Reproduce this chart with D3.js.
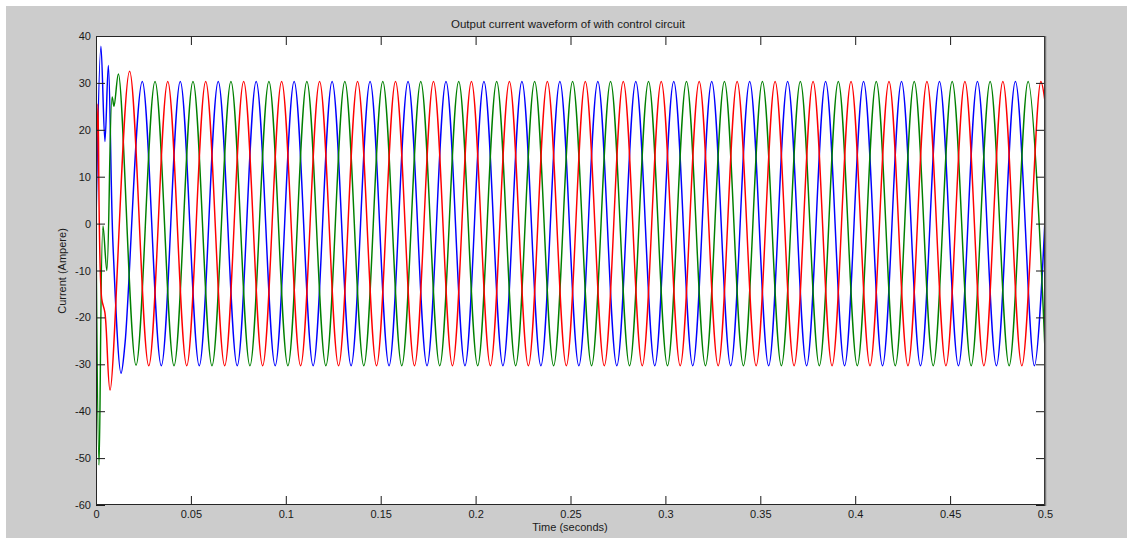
<!DOCTYPE html>
<html><head><meta charset="utf-8">
<script src="https://cdn.jsdelivr.net/npm/d3@7"></script>
<style>
html,body{margin:0;padding:0;background:#fff;}
svg{display:block;}
text{font-family:"Liberation Sans",Arial,Helvetica,sans-serif;}
</style>
</head><body>
<svg id="chart" width="1127" height="539"></svg>
<script>
// ---- data ----
const xTicks = [0, 0.05, 0.1, 0.15, 0.2, 0.25, 0.3, 0.35, 0.4, 0.45, 0.5];
const xTickLabels = ["0", "0.05", "0.1", "0.15", "0.2", "0.25", "0.3", "0.35", "0.4", "0.45", "0.5"];
const yTicks = [-60, -50, -40, -30, -20, -10, 0, 10, 20, 30, 40];
const yTickLabels = ["-60", "-50", "-40", "-30", "-20", "-10", "0", "10", "20", "30", "40"];

// [time (s), current (A)] at the turning points of each phase
const phaseBlue = [
  [0,0],[0.0026,37.8],[0.0047,17.5],[0.0065,33.7],[0.0090,-5.0],[0.0132,-31.9],[0.0153,-25.5],
  [0.0244,30.3],[0.0344,-30.3],[0.0444,30.3],[0.0544,-30.3],[0.0644,30.3],[0.0744,-30.3],
  [0.0844,30.3],[0.0944,-30.3],[0.1044,30.3],[0.1144,-30.3],[0.1244,30.3],[0.1344,-30.3],
  [0.1444,30.3],[0.1544,-30.3],[0.1644,30.3],[0.1744,-30.3],[0.1844,30.3],[0.1944,-30.3],
  [0.2044,30.3],[0.2144,-30.3],[0.2244,30.3],[0.2344,-30.3],[0.2444,30.3],[0.2544,-30.3],
  [0.2644,30.3],[0.2744,-30.3],[0.2844,30.3],[0.2944,-30.3],[0.3044,30.3],[0.3144,-30.3],
  [0.3244,30.3],[0.3344,-30.3],[0.3444,30.3],[0.3544,-30.3],[0.3644,30.3],[0.3744,-30.3],
  [0.3844,30.3],[0.3944,-30.3],[0.4044,30.3],[0.4144,-30.3],[0.4244,30.3],[0.4344,-30.3],
  [0.4444,30.3],[0.4544,-30.3],[0.4644,30.3],[0.4744,-30.3],[0.4844,30.3],[0.4944,-30.3],
  [0.5,1.0]
];
const phaseGreen = [
  [0,0],[0.0016,-51.5],[0.0037,-0.5],[0.0057,-10.0],[0.0085,27.0],[0.0095,25.0],[0.0118,31.9],
  [0.0211,-30.2],[0.0311,30.3],[0.0411,-30.3],[0.0511,30.3],[0.0611,-30.3],[0.0711,30.3],
  [0.0811,-30.3],[0.0911,30.3],[0.1011,-30.3],[0.1111,30.3],[0.1211,-30.3],[0.1311,30.3],
  [0.1411,-30.3],[0.1511,30.3],[0.1611,-30.3],[0.1711,30.3],[0.1811,-30.3],[0.1911,30.3],
  [0.2011,-30.3],[0.2111,30.3],[0.2211,-30.3],[0.2311,30.3],[0.2411,-30.3],[0.2511,30.3],
  [0.2611,-30.3],[0.2711,30.3],[0.2811,-30.3],[0.2911,30.3],[0.3011,-30.3],[0.3111,30.3],
  [0.3211,-30.3],[0.3311,30.3],[0.3411,-30.3],[0.3511,30.3],[0.3611,-30.3],[0.3711,30.3],
  [0.3811,-30.3],[0.3911,30.3],[0.4011,-30.3],[0.4111,30.3],[0.4211,-30.3],[0.4311,30.3],
  [0.4411,-30.3],[0.4511,30.3],[0.4611,-30.3],[0.4711,30.3],[0.4811,-30.3],[0.4911,30.3],
  [0.5,-27.0]
];
const phaseRed = [
  [0,0],[0.0010,25.5],[0.0030,-16.0],[0.0047,-19.0],[0.0074,-35.5],[0.0177,32.5],
  [0.0278,-30.3],[0.0378,30.3],[0.0478,-30.3],[0.0578,30.3],[0.0678,-30.3],[0.0778,30.3],
  [0.0878,-30.3],[0.0978,30.3],[0.1078,-30.3],[0.1178,30.3],[0.1278,-30.3],[0.1378,30.3],
  [0.1478,-30.3],[0.1578,30.3],[0.1678,-30.3],[0.1778,30.3],[0.1878,-30.3],[0.1978,30.3],
  [0.2078,-30.3],[0.2178,30.3],[0.2278,-30.3],[0.2378,30.3],[0.2478,-30.3],[0.2578,30.3],
  [0.2678,-30.3],[0.2778,30.3],[0.2878,-30.3],[0.2978,30.3],[0.3078,-30.3],[0.3178,30.3],
  [0.3278,-30.3],[0.3378,30.3],[0.3478,-30.3],[0.3578,30.3],[0.3678,-30.3],[0.3778,30.3],
  [0.3878,-30.3],[0.3978,30.3],[0.4078,-30.3],[0.4178,30.3],[0.4278,-30.3],[0.4378,30.3],
  [0.4478,-30.3],[0.4578,30.3],[0.4678,-30.3],[0.4778,30.3],[0.4878,-30.3],[0.4978,30.3],
  [0.5,26.0]
];
const seriesNames = ["Phase A", "Phase B", "Phase C"];
const seriesColors = ["#0000ff", "#008000", "#ff0000"];

// ---- layout ----
const W = 1127, H = 539;
const L = 96, R = 1045, T = 36, B = 505;
const svg = d3.select("#chart");

svg.append("rect").attr("x", 6).attr("y", 6).attr("width", W - 6).attr("height", 532).attr("fill", "#cccccc");
svg.append("rect").attr("x", L).attr("y", T).attr("width", R - L).attr("height", B - T).attr("fill", "#ffffff");

const x = d3.scaleLinear().domain([0, 0.5]).range([L, R]);
const y = d3.scaleLinear().domain([-60, 40]).range([B, T]);

svg.append("clipPath").attr("id", "clip").append("rect")
  .attr("x", L).attr("y", T).attr("width", R - L).attr("height", B - T);

const line = d3.line().x(d => x(d[0])).y(d => y(d[1])).curve(d3.curveCatmullRom.alpha(0.5));
const plot = svg.append("g").attr("clip-path", "url(#clip)");
[phaseBlue, phaseGreen, phaseRed].forEach((s, i) => {
  plot.append("path").datum(s)
    .attr("d", line)
    .attr("fill", "none")
    .attr("stroke", seriesColors[i])
    .attr("stroke-width", 1.45)
    .attr("stroke-linejoin", "round")
    .attr("data-name", seriesNames[i]);
});

// axes (inward ticks on all four sides)
const tk = 9;
const styleAxis = g => {
  g.select(".domain").remove();
  g.selectAll(".tick line").attr("stroke", "#1a1a1a").attr("stroke-width", 1);
  g.selectAll(".tick text").attr("fill", "#1a1a1a").attr("font-size", 11)
    .attr("font-family", '"Liberation Sans", Arial, Helvetica, sans-serif');
};
svg.append("g").attr("transform", `translate(0,${B})`)
  .call(d3.axisBottom(x).tickValues(xTicks).tickFormat((d, i) => xTickLabels[i]).tickSize(-tk).tickPadding(5))
  .call(styleAxis);
svg.append("g").attr("transform", `translate(0,${T})`)
  .call(d3.axisTop(x).tickValues(xTicks).tickFormat("").tickSize(-tk))
  .call(styleAxis);
svg.append("g").attr("transform", `translate(${L},0)`)
  .call(d3.axisLeft(y).tickValues(yTicks).tickFormat((d, i) => yTickLabels[i]).tickSize(-tk).tickPadding(5))
  .call(styleAxis);
svg.append("g").attr("transform", `translate(${R},0)`)
  .call(d3.axisRight(y).tickValues(yTicks).tickFormat("").tickSize(-tk))
  .call(styleAxis);

// box
svg.append("rect").attr("x", L + 0.5).attr("y", T + 0.5).attr("width", R - L - 1).attr("height", B - T - 1)
  .attr("fill", "none").attr("stroke", "#262626").attr("stroke-width", 1);
svg.append("line").attr("x1", R + 0.5).attr("x2", R + 0.5).attr("y1", T).attr("y2", B + 1)
  .attr("stroke", "#7a7a7a").attr("stroke-width", 1.5);

// texts
svg.append("text").attr("x", 568).attr("y", 28).attr("text-anchor", "middle")
  .attr("font-size", 11.5).attr("fill", "#1a1a1a").text("Output current waveform of with control circuit");
svg.append("text").attr("x", 570).attr("y", 531).attr("text-anchor", "middle")
  .attr("font-size", 11).attr("fill", "#1a1a1a").text("Time (seconds)");
svg.append("text").attr("transform", "translate(66,271) rotate(-90)").attr("text-anchor", "middle")
  .attr("font-size", 11).attr("fill", "#1a1a1a").text("Current (Ampere)");
</script>
</body></html>
